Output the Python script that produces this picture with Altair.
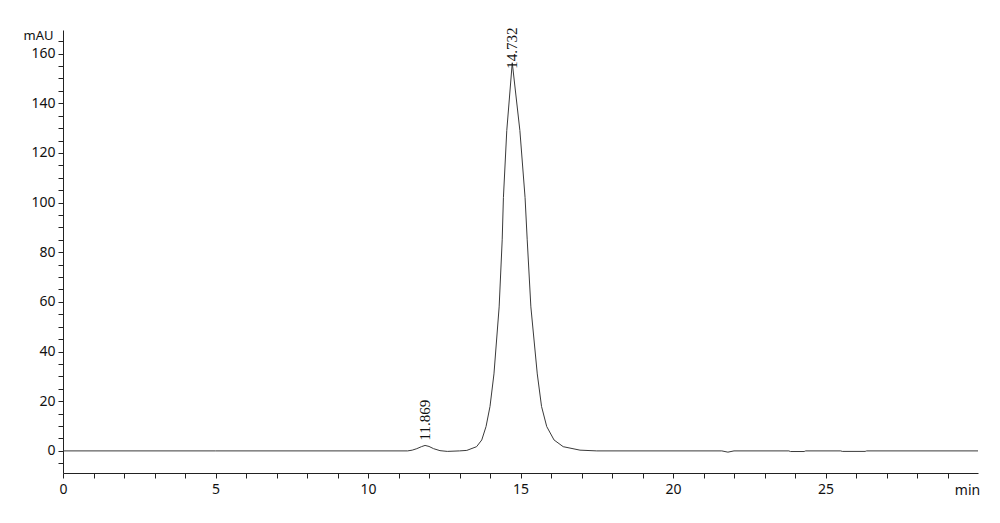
import altair as alt
import pandas as pd

# Chromatogram trace (time in min, absorbance in mAU)
times = [0.0, 5.0, 10.0, 11.30, 11.45, 11.60, 11.75, 11.87, 12.00, 12.15, 12.36, 12.60, 13.00,
         13.24, 13.56, 13.73, 13.87, 14.00, 14.13, 14.30, 14.40, 14.44, 14.55, 14.73,
         14.98, 15.15, 15.22, 15.34, 15.55, 15.69, 15.86, 16.10, 16.40, 16.95, 17.50,
         21.60, 21.80, 22.00, 23.80, 23.85, 24.30, 24.35, 25.50, 25.55, 26.30, 26.35, 30.0]
signal = [0.0, 0.0, 0.0, 0.0, 0.3, 0.9, 1.7, 2.2, 1.8, 0.9, 0.1, -0.2, 0.0,
          0.2, 1.7, 4.4, 9.8, 17.9, 31.0, 58.0, 85.0, 102.0, 129.0, 156.3,
          129.0, 102.0, 85.0, 58.0, 31.0, 17.9, 9.8, 4.4, 1.7, 0.3, 0.0,
          0.0, -0.5, 0.0, 0.0, -0.25, -0.25, 0.0, 0.0, -0.2, -0.2, 0.0, 0.0]

peak_times = [11.869, 14.732]
peak_heights = [2.2, 156.3]
peak_labels = ["11.869", "14.732"]

x_ticks = list(range(0, 30))
y_ticks = list(range(-5, 170, 5))

trace = pd.DataFrame({"t": times, "v": signal})
peaks = pd.DataFrame({"t": peak_times, "v": peak_heights, "label": peak_labels})

W, H = 915, 443
xscale = alt.Scale(domain=[0, 30], nice=False, zero=False)
yscale = alt.Scale(domain=[-8.9, 169.5], nice=False, zero=False)

xaxis = alt.Axis(
    values=x_ticks, tickCount=200, format="d",
    labelExpr="datum.value % 5 == 0 ? datum.label : ''",
    labelOverlap=False, labelBound=False, labelFlush=False,
    grid=False, domainColor="#222", tickColor="#222", tickSize=5,
    labelFont="Noto Sans", labelFontSize=14, labelColor="#111", labelPadding=4,
    title="min", titleFont="Noto Sans", titleFontSize=14, titleFontWeight="normal",
    titleColor="#111", titleAnchor="end", titleAlign="center", titleBaseline="middle",
    titleX=W - 11, titleY=17,
)
yaxis = alt.Axis(
    values=y_ticks, tickCount=200, format="d",
    labelExpr="(datum.value % 20 == 0 && datum.value >= 0) ? datum.label : ''",
    labelOverlap=False, labelBound=False, labelFlush=False,
    grid=False, domainColor="#222", tickColor="#222", tickSize=5,
    labelFont="Noto Sans", labelFontSize=14, labelColor="#111", labelPadding=3,
    title="mAU", titleFont="Noto Sans", titleFontSize=13, titleFontWeight="normal",
    titleColor="#111", titleAngle=0, titleAlign="right", titleBaseline="middle",
    titleX=-10, titleY=5,
)

line = alt.Chart(trace).mark_line(color="#3a3a3a", strokeWidth=1, clip=True).encode(
    x=alt.X("t:Q", scale=xscale, axis=xaxis),
    y=alt.Y("v:Q", scale=yscale, axis=yaxis),
)

text_style = dict(angle=270, align="left", baseline="middle",
                  font="Liberation Serif", fontSize=15, color="#111")

label_small = alt.Chart(peaks).transform_filter(alt.datum.v < 50).mark_text(
    dx=5, **text_style
).encode(
    x=alt.X("t:Q", scale=xscale),
    y=alt.Y("v:Q", scale=yscale),
    text="label:N",
)
label_main = alt.Chart(peaks).transform_filter(alt.datum.v >= 50).mark_text(
    dx=-6, **text_style
).encode(
    x=alt.X("t:Q", scale=xscale),
    y=alt.Y("v:Q", scale=yscale),
    text="label:N",
)

chart = alt.layer(line, label_small, label_main).properties(
    width=W, height=H,
    background="white",
    autosize=alt.AutoSizeParams(type="none"),
    padding={"left": 55, "top": 22, "right": 10, "bottom": 40},
).configure_view(strokeWidth=0)

chart.save("out.html", embed_options={"renderer": "svg", "actions": False})
